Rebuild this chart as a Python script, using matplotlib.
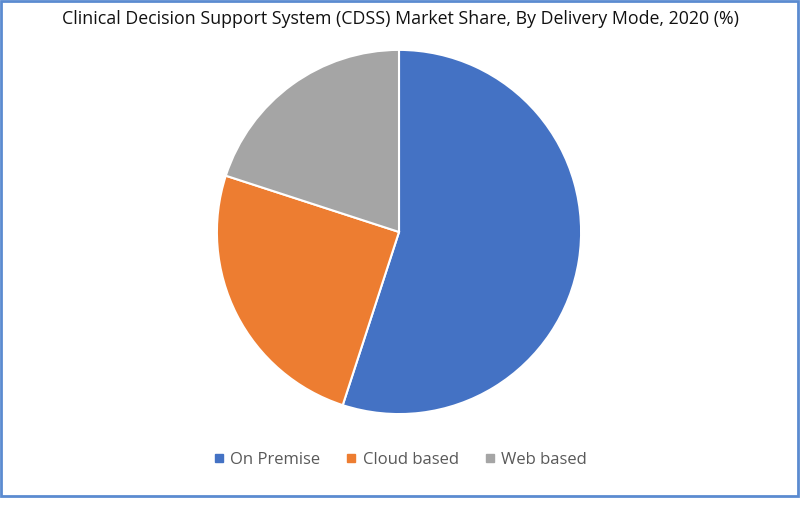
import matplotlib.pyplot as plt
from matplotlib.patches import Rectangle
from matplotlib.lines import Line2D

labels = ["On Premise", "Cloud based", "Web based"]
shares = [55, 25, 20]
colors = ["#4472C4", "#ED7D31", "#A5A5A5"]

fig = plt.figure(figsize=(8, 5.21), dpi=100)

# outer blue frame
fig.patches.append(Rectangle((0.001, 0.048), 0.997, 0.95, transform=fig.transFigure,
                             fill=False, edgecolor="#5B8BD0", linewidth=2))

fig.text(0.5, 0.963, "Clinical Decision Support System (CDSS) Market Share, By Delivery Mode, 2020 (%)",
         ha="center", va="center", fontsize=12.8, family="Open Sans", color="#111111")

ax = fig.add_axes([0.27, 0.2035, 0.4575, 0.7025])
ax.pie(shares, colors=colors, startangle=90, counterclock=False,
       wedgeprops=dict(edgecolor="white", linewidth=1.5))
ax.set_xlim(-1.005, 1.005)
ax.set_ylim(-1.005, 1.005)
ax.set_aspect("equal")

handles = [Line2D([], [], marker="s", linestyle="", color=c, markersize=6) for c in colors]
fig.legend(handles, labels, loc="center", bbox_to_anchor=(0.5, 0.118), ncol=3,
           frameon=False, handlelength=0.7, handletextpad=0.35, columnspacing=1.5,
           prop=dict(family="Open Sans", size=12), labelcolor="#595959")

fig.savefig("out.png", dpi=100)
